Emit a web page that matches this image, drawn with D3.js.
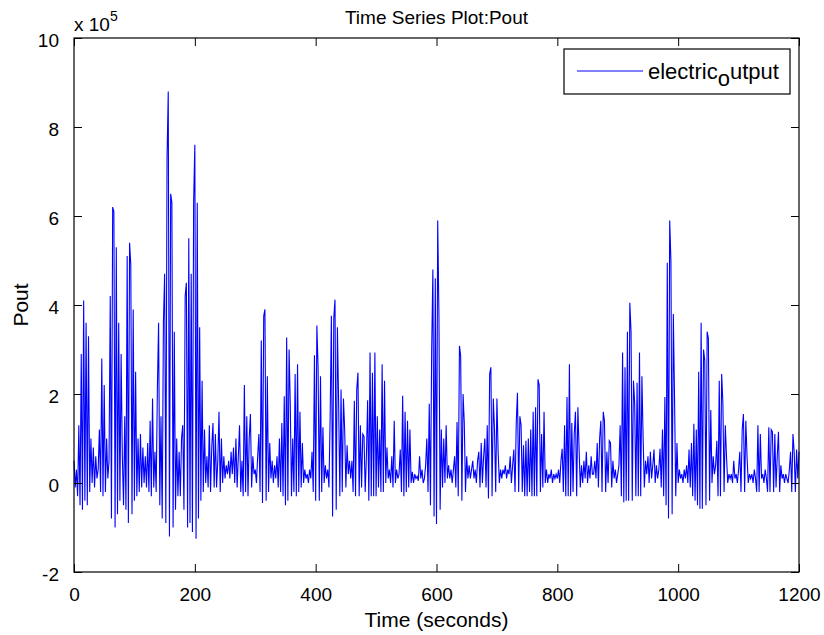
<!DOCTYPE html>
<html>
<meta charset="utf-8">
<style>
body { margin: 0; background: #fff; }
text { font-family: "Liberation Sans", Arial, Helvetica, sans-serif; fill: #000; }
.axis path, .axis line { stroke: #000; }
</style>
<body>
<svg id="chart" width="824" height="635"></svg>
<script src="https://d3js.org/d3.v7.min.js"></script>
<script>

// Pout samples, units of 1e5, one every 2 s from 0 to 1200 s
var pout = [
  0.5,-0.1,0.3,-0.3,1.3,-0.5,2.9,-0.6,4.1,-0.4,
  3.6,-0.5,3.3,-0.2,1.0,0.0,0.8,-0.1,0.6,0.1,
  0.3,1.2,-0.2,2.8,-0.3,2.2,-0.2,1.0,0.1,0.5,
  4.2,-0.8,6.2,6.1,-1.0,5.3,-0.7,3.6,-0.4,2.9,
  0.6,-0.5,1.5,-0.6,5.1,-0.9,5.4,4.9,-0.7,3.9,
  -0.4,2.5,-0.3,1.0,-0.2,1.1,-0.1,0.8,0.0,0.6,
  -0.1,0.9,-0.2,1.4,-0.3,1.9,-0.1,0.7,-0.2,2.1,
  3.6,-0.5,1.5,-0.8,3.6,4.7,-0.9,7.3,8.8,-1.2,
  6.5,6.3,-1.0,3.4,-0.6,1.0,-0.3,0.7,-0.3,1.0,
  1.3,-0.6,4.2,4.5,-1.0,5.5,-0.9,4.7,-1.1,6.3,
  7.6,-1.25,6.3,-0.8,3.5,-0.4,2.3,-0.2,1.2,0.0,
  0.6,-0.1,1.3,-0.2,0.8,1.35,-0.1,1.1,-0.1,0.5,
  1.6,-0.2,1.0,0.0,0.6,0.1,0.4,0.2,0.5,0.1,
  0.7,0.2,0.8,0.0,1.0,-0.1,0.6,1.3,-0.2,0.5,
  -0.3,2.2,-0.2,1.5,-0.3,1.0,1.55,-0.1,0.6,0.2,
  0.3,0.0,0.6,1.1,-0.2,3.2,-0.45,3.75,3.9,-0.4,
  2.4,-0.2,0.9,0.1,0.5,0.0,0.4,0.1,0.6,-0.1,
  1.0,-0.2,1.35,-0.3,1.95,-0.5,3.27,-0.4,3.0,1.75,
  -0.3,1.0,-0.2,2.45,-0.3,2.67,-0.2,1.6,-0.1,0.9,
  0.0,0.3,0.1,0.2,0.0,0.3,0.1,0.7,-0.2,2.87,
  -0.4,3.54,2.6,-0.4,2.4,-0.2,1.25,0.0,0.4,0.1,
  0.3,-0.1,1.5,3.76,-0.75,3.7,4.12,-0.6,3.5,1.8,
  -0.3,2.1,-0.2,1.9,1.2,-0.1,0.85,0.2,0.5,0.1,
  0.5,-0.2,1.85,-0.3,2.1,2.48,-0.3,1.3,-0.1,1.1,
  1.05,-0.2,0.6,1.86,-0.4,2.93,-0.3,2.48,-0.3,2.93,
  -0.3,1.5,-0.1,1.2,-0.2,2.67,-0.2,2.3,0.0,0.8,
  0.1,0.3,0.0,0.6,-0.1,1.4,0.0,0.3,0.1,0.2,
  0.75,-0.2,1.96,-0.3,1.6,-0.2,1.4,-0.1,1.2,0.0,
  0.25,0.0,0.2,0.1,0.15,0.05,0.6,0.1,0.3,0.0,
  0.1,0.4,1.0,-0.2,1.78,-0.5,2.97,4.8,-0.75,4.6,
  -0.92,5.9,3.8,-0.6,1.2,-0.1,1.0,0.0,1.3,0.1,
  0.4,0.1,0.3,0.0,0.3,0.6,-0.1,1.37,-0.3,3.08,
  2.86,-0.4,2.0,1.35,-0.2,0.6,0.1,0.4,0.1,0.3,
  0.5,0.1,0.3,0.0,0.5,0.7,-0.1,0.9,0.0,0.6,
  1.0,-0.1,1.3,-0.35,2.45,2.6,-0.3,1.9,1.2,-0.2,
  1.9,0.7,0.0,0.3,0.1,0.3,0.2,0.4,0.1,0.3,
  0.2,0.6,0.0,0.4,0.75,-0.2,1.35,2.03,-0.2,1.5,
  1.3,-0.2,0.85,-0.3,0.95,-0.3,1.0,-0.2,1.2,-0.3,
  1.6,-0.3,1.7,-0.3,2.33,2.2,-0.2,1.1,-0.1,1.6,
  0.0,0.3,0.0,0.2,0.1,0.3,0.0,0.2,0.1,0.2,
  0.1,0.3,0.0,0.5,0.77,-0.2,1.3,-0.3,1.93,-0.3,
  2.67,-0.3,1.35,-0.2,1.1,1.6,-0.3,1.7,0.77,-0.1,
  0.4,0.0,0.5,0.1,0.7,0.0,0.4,0.1,0.6,0.2,
  0.2,0.5,0.1,0.9,-0.1,1.0,1.4,-0.2,1.6,1.4,
  -0.2,0.7,0.0,0.95,0.9,-0.1,0.5,0.1,0.3,0.0,
  0.2,0.4,1.3,-0.3,2.93,-0.43,2.6,-0.4,3.4,-0.4,
  4.05,3.4,-0.4,2.3,1.8,-0.3,2.25,-0.3,2.93,-0.3,
  2.4,1.0,-0.1,0.5,0.2,0.6,0.0,0.7,0.1,0.4,
  0.75,0.0,0.4,0.1,0.3,0.77,-0.1,1.2,-0.3,1.93,
  -0.5,4.95,-0.8,5.9,5.0,-0.7,3.8,1.9,-0.3,0.9,
  0.0,0.3,0.1,0.2,0.0,0.3,0.1,0.4,0.0,0.75,
  -0.1,0.9,-0.3,1.33,-0.4,1.2,-0.5,2.5,-0.58,3.6,
  -0.58,3.0,2.75,-0.5,3.4,3.25,-0.4,1.64,0.0,0.6,
  0.2,0.4,0.95,-0.3,2.3,-0.3,2.45,1.8,-0.2,1.3,
  0.6,0.0,0.2,0.1,0.2,0.0,0.5,0.1,0.2,0.0,
  0.3,0.7,-0.2,1.2,1.55,-0.2,1.4,0.6,0.0,0.2,
  0.1,0.2,0.0,0.3,0.1,-0.2,1.3,-0.2,1.1,0.1,
  0.2,0.0,0.3,0.1,-0.2,1.25,-0.2,1.2,1.15,-0.2,
  1.1,-0.1,0.6,1.15,-0.2,0.4,0.1,0.2,0.0,0.2,
  0.1,0.0,0.3,0.7,-0.2,1.1,0.7,-0.2,0.75,0.1,
  0.7
];
var sampleStep = 2;   // seconds between samples

var xTicks = [0, 200, 400, 600, 800, 1000, 1200];
var yTicks = [-2, 0, 2, 4, 6, 8, 10];
var titleText = "Time Series Plot:Pout";
var xLabel = "Time (seconds)";
var yLabel = "Pout";
var seriesName = ["electric", "o", "utput"];   // electric_output, o as subscript

var svg = d3.select("svg"),
    margin = {top: 38, right: 25, bottom: 63, left: 74},
    width = +svg.attr("width") - margin.left - margin.right,
    height = +svg.attr("height") - margin.top - margin.bottom,
    g = svg.append("g").attr("transform", "translate(" + margin.left + "," + margin.top + ")");

var x = d3.scaleLinear().domain([0, 1200]).range([0, width]);
var y = d3.scaleLinear().domain([-2, 10]).range([height, 0]);

var tickFont = "19px";

// signal
var line = d3.line()
    .x(function(d, i) { return x(i * sampleStep); })
    .y(function(d) { return y(d); });

g.append("path")
    .datum(pout)
    .attr("fill", "none")
    .attr("stroke", "#0000ff")
    .attr("stroke-width", 1.1)
    .attr("d", line);

// axes, ticks point inward like matlab; plain hyphen for negatives
var fmt = function(d) { return String(d); };
g.append("g")
    .attr("class", "axis")
    .attr("transform", "translate(0," + height + ")")
    .call(d3.axisBottom(x).tickValues(xTicks).tickFormat(fmt).tickSizeInner(-8).tickSizeOuter(0).tickPadding(16))
    .call(function(a) { a.select(".domain").remove(); a.selectAll("text").style("font-size", tickFont); });

g.append("g")
    .attr("class", "axis")
    .call(d3.axisLeft(y).tickValues(yTicks).tickFormat(fmt).tickSizeInner(-8).tickSizeOuter(0).tickPadding(15))
    .call(function(a) { a.select(".domain").remove(); a.selectAll("text").style("font-size", tickFont).attr("dy", "0.45em"); });

g.append("g")
    .attr("class", "axis")
    .call(d3.axisTop(x).tickValues(xTicks).tickFormat("").tickSizeInner(-8).tickSizeOuter(0))
    .call(function(a) { a.select(".domain").remove(); });

g.append("g")
    .attr("class", "axis")
    .attr("transform", "translate(" + width + ",0)")
    .call(d3.axisRight(y).tickValues(yTicks).tickFormat("").tickSizeInner(-8).tickSizeOuter(0))
    .call(function(a) { a.select(".domain").remove(); });

g.append("rect")
    .attr("width", width)
    .attr("height", height)
    .attr("fill", "none")
    .attr("stroke", "#000")
    .attr("stroke-width", 1.2);

// exponent
var ex = g.append("text")
    .attr("x", 0)
    .attr("y", -7)
    .style("font-size", tickFont)
    .text("x 10");
ex.append("tspan")
    .attr("dy", -10)
    .style("font-size", "14px")
    .text("5");

// title and labels
svg.append("text")
    .attr("x", margin.left + width / 2)
    .attr("y", 24)
    .attr("text-anchor", "middle")
    .style("font-size", "19px")
    .text(titleText);

svg.append("text")
    .attr("x", margin.left + width / 2)
    .attr("y", 627)
    .attr("text-anchor", "middle")
    .style("font-size", "21px")
    .text(xLabel);

svg.append("text")
    .attr("transform", "translate(28," + (margin.top + height / 2) + ") rotate(-90)")
    .attr("text-anchor", "middle")
    .style("font-size", "21px")
    .text(yLabel);

// legend
var legend = svg.append("g").attr("transform", "translate(564,49)");
legend.append("rect")
    .attr("width", 226)
    .attr("height", 45)
    .attr("fill", "#fff")
    .attr("stroke", "#000")
    .attr("stroke-width", 1.2);
legend.append("line")
    .attr("x1", 13).attr("x2", 79)
    .attr("y1", 22).attr("y2", 22)
    .attr("stroke", "#0000ff");
var lt = legend.append("text")
    .attr("x", 84)
    .attr("y", 30)
    .style("font-size", "22px");
lt.append("tspan").text(seriesName[0]);
lt.append("tspan").attr("dy", 7).text(seriesName[1]);
lt.append("tspan").attr("dy", -7).text(seriesName[2]);

</script>
</body>
</html>
